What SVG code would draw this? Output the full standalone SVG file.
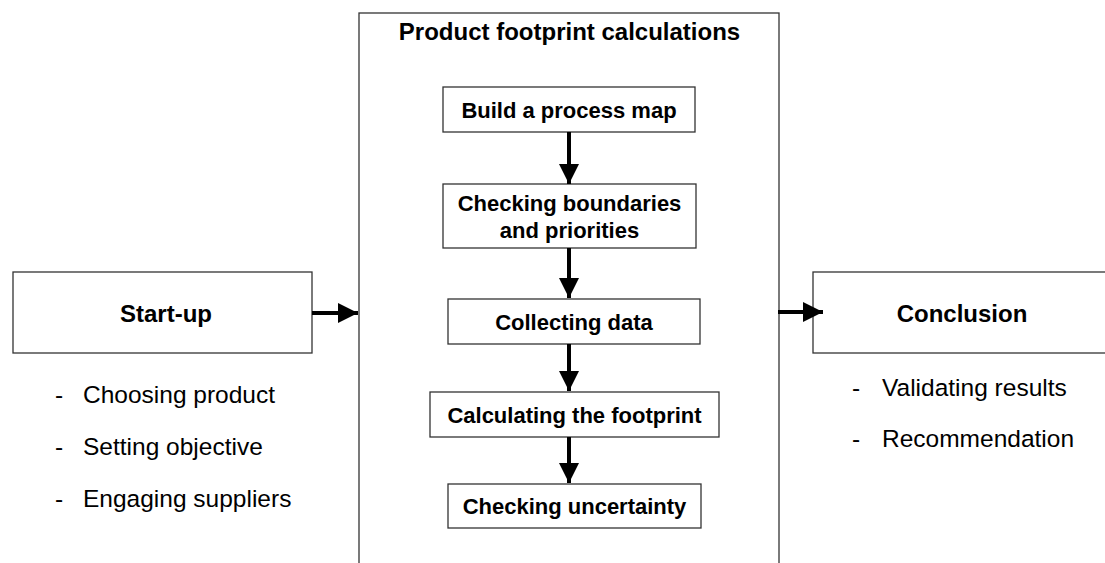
<svg xmlns="http://www.w3.org/2000/svg" width="1105" height="563" viewBox="0 0 1105 563">
  <style>
    .box { fill: #ffffff; stroke: #333333; stroke-width: 1.3; }
    .lbl { font-family: "Liberation Sans", Arial, sans-serif; font-weight: bold; fill: #000000; text-anchor: middle; }
    .big { font-size: 24px; }
    .mid { font-size: 22px; }
    .txt { font-family: "Liberation Sans", Arial, sans-serif; font-size: 24.5px; fill: #000000; }
    .arrow { stroke: #000000; stroke-width: 4; fill: none; }
  </style>
  <defs>
    <marker id="ah" markerUnits="userSpaceOnUse" markerWidth="20" markerHeight="20" viewBox="0 0 18 18" refX="18" refY="9" orient="auto">
      <path d="M0,0 L18,9 L0,18 Z" fill="#000000"/>
    </marker>
  </defs>
  <rect width="1105" height="563" fill="#ffffff"/>

  <g id="calc-frame">
    <rect class="box" x="359" y="13" width="420" height="600"/>
    <text class="lbl big" x="569.5" y="40">Product footprint calculations</text>
  </g>

  <g id="startup">
    <rect class="box" x="13" y="272" width="299" height="81"/>
    <text class="lbl big" x="166" y="322">Start-up</text>
    <text class="txt" x="55" y="403">-</text>
    <text class="txt" x="83" y="403">Choosing product</text>
    <text class="txt" x="55" y="455">-</text>
    <text class="txt" x="83" y="455">Setting objective</text>
    <text class="txt" x="55" y="507">-</text>
    <text class="txt" x="83" y="507">Engaging suppliers</text>
  </g>

  <g id="conclusion">
    <rect class="box" x="813" y="272" width="320" height="81"/>
    <text class="lbl big" x="962" y="322">Conclusion</text>
    <text class="txt" x="852" y="396">-</text>
    <text class="txt" x="882" y="396">Validating results</text>
    <text class="txt" x="852" y="447">-</text>
    <text class="txt" x="882" y="447">Recommendation</text>
  </g>

  <g id="build-map">
    <rect class="box" x="443" y="87" width="252" height="45"/>
    <text class="lbl mid" x="569" y="118">Build a process map</text>
  </g>

  <g id="boundaries">
    <rect class="box" x="443" y="184" width="253" height="64"/>
    <text class="lbl mid" x="569.5" y="211">Checking boundaries</text>
    <text class="lbl mid" x="569.5" y="238">and priorities</text>
  </g>

  <g id="collecting">
    <rect class="box" x="448" y="299" width="252" height="45"/>
    <text class="lbl mid" x="574" y="329.5">Collecting data</text>
  </g>

  <g id="calculating">
    <rect class="box" x="430" y="392" width="289" height="45"/>
    <text class="lbl mid" x="574.5" y="422.5">Calculating the footprint</text>
  </g>

  <g id="uncertainty">
    <rect class="box" x="448" y="484" width="253" height="44"/>
    <text class="lbl mid" x="574.5" y="514">Checking uncertainty</text>
  </g>

  <g id="connectors">
    <line class="arrow" x1="569" y1="132" x2="569" y2="184" marker-end="url(#ah)"/>
    <line class="arrow" x1="569" y1="248" x2="569" y2="298" marker-end="url(#ah)"/>
    <line class="arrow" x1="569" y1="344" x2="569" y2="391" marker-end="url(#ah)"/>
    <line class="arrow" x1="569" y1="437" x2="569" y2="483" marker-end="url(#ah)"/>
    <line class="arrow" x1="312" y1="313" x2="358" y2="313" marker-end="url(#ah)"/>
    <line class="arrow" x1="778" y1="312" x2="823" y2="312" marker-end="url(#ah)"/>
  </g>
</svg>
